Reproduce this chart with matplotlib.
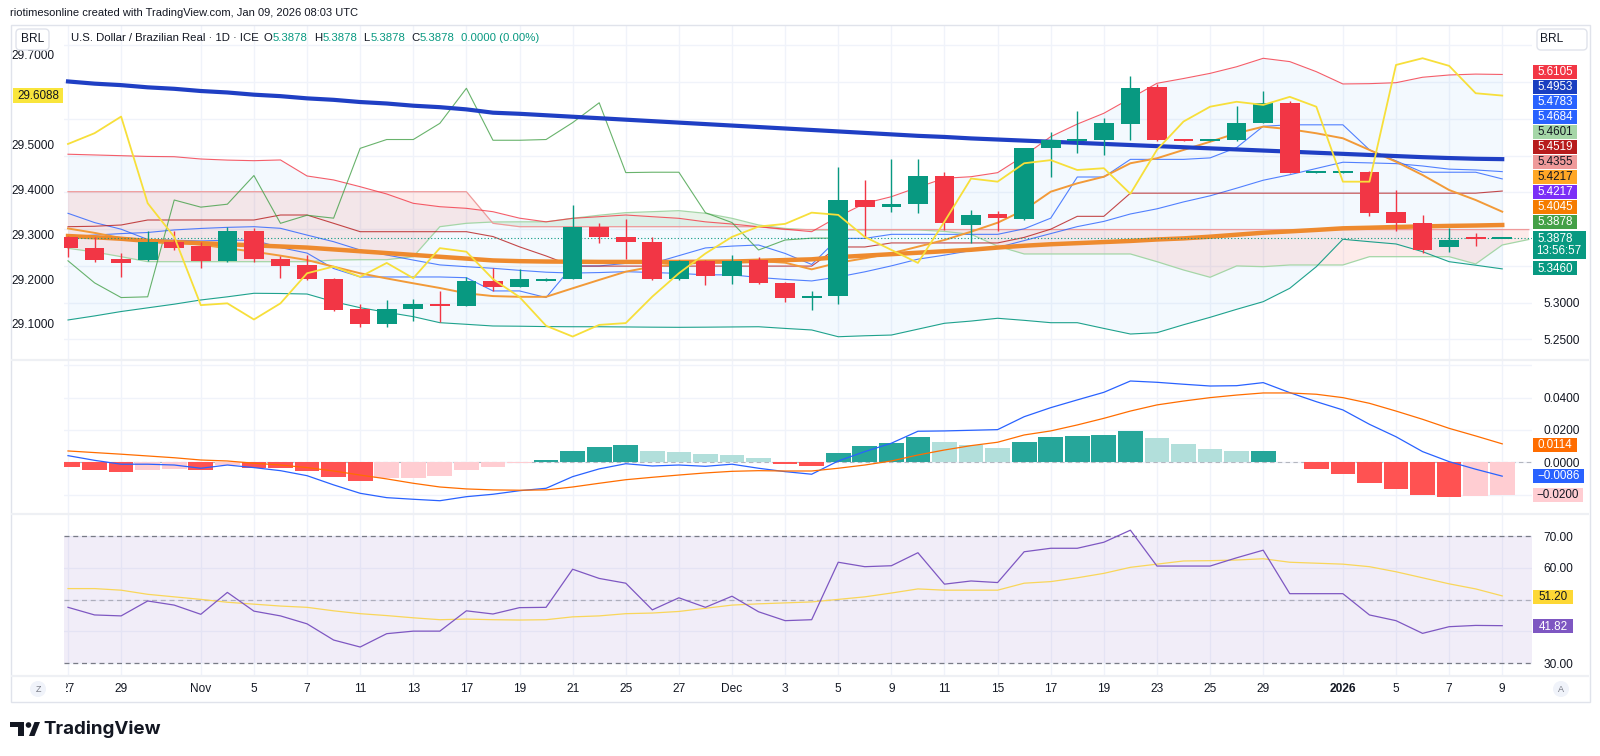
import numpy as np
import matplotlib
matplotlib.use('Agg')
import matplotlib.pyplot as plt
from matplotlib.patches import Rectangle, FancyBboxPatch, Circle, Polygon

plt.rcParams['font.family'] = ['Liberation Sans Narrow', 'Liberation Sans', 'DejaVu Sans']

# ---- USD/BRL daily, Oct 27 2025 .. Jan 9 2026 (one bar per weekday) ----
opens = [5.3898, 5.374, 5.359, 5.358, 5.383, 5.377, 5.357, 5.398, 5.360, 5.351,
         5.332, 5.291, 5.271, 5.292, 5.298, 5.296, 5.330, 5.322, 5.331, 5.3327,
         5.403, 5.389, 5.382, 5.332, 5.357, 5.337, 5.358, 5.327, 5.307, 5.309,
         5.440, 5.430, 5.434, 5.473, 5.4057, 5.4207, 5.414, 5.510, 5.521, 5.522,
         5.543, 5.593, 5.522, 5.521, 5.521, 5.545, 5.572, 5.477, 5.4775, 5.478,
         5.423, 5.408, 5.3754, 5.3885, 5.3878]
highs = [5.391, 5.389, 5.367, 5.397, 5.398, 5.383, 5.403, 5.401, 5.364, 5.365,
         5.333, 5.298, 5.303, 5.305, 5.316, 5.3345, 5.347, 5.346, 5.333, 5.433,
         5.408, 5.4135, 5.390, 5.358, 5.358, 5.365, 5.3625, 5.328, 5.316, 5.485,
         5.467, 5.496, 5.495, 5.478, 5.426, 5.425, 5.511, 5.5327, 5.561, 5.551,
         5.6084, 5.598, 5.523, 5.523, 5.5676, 5.588, 5.574, 5.478, 5.478, 5.479,
         5.453, 5.419, 5.401, 5.395, 5.3878]
lows = [5.362, 5.356, 5.335, 5.357, 5.372, 5.347, 5.356, 5.356, 5.333, 5.331,
        5.289, 5.2665, 5.267, 5.2755, 5.274, 5.295, 5.316, 5.321, 5.330, 5.332,
        5.381, 5.359, 5.331, 5.331, 5.324, 5.325, 5.326, 5.301, 5.290, 5.298,
        5.388, 5.424, 5.4215, 5.399, 5.3816, 5.398, 5.413, 5.4714, 5.504, 5.501,
        5.521, 5.520, 5.520, 5.520, 5.520, 5.544, 5.476, 5.476, 5.476, 5.418,
        5.398, 5.367, 5.3694, 5.3776, 5.3878]
closes = [5.3744, 5.358, 5.354, 5.383, 5.375, 5.357, 5.398, 5.359, 5.350, 5.332,
          5.290, 5.271, 5.292, 5.298, 5.2955, 5.3295, 5.322, 5.332, 5.332, 5.403,
          5.389, 5.382, 5.332, 5.357, 5.336, 5.357, 5.327, 5.307, 5.308, 5.4397,
          5.430, 5.434, 5.473, 5.408, 5.419, 5.415, 5.510, 5.522, 5.522, 5.544,
          5.5917, 5.521, 5.521, 5.522, 5.545, 5.572, 5.477, 5.4775, 5.4775, 5.4224,
          5.409, 5.3717, 5.3853, 5.3878, 5.3878]

# moving averages
ma_long = [5.601, 5.598, 5.596, 5.593, 5.591, 5.588, 5.586, 5.583, 5.581, 5.578,
           5.576, 5.573, 5.571, 5.568, 5.566, 5.563, 5.5585, 5.557, 5.555, 5.553,
           5.551, 5.549, 5.547, 5.545, 5.543, 5.541, 5.539, 5.537, 5.535, 5.533,
           5.531, 5.529, 5.527, 5.5255, 5.5235, 5.522, 5.5205, 5.519, 5.5175, 5.516,
           5.5145, 5.513, 5.5115, 5.510, 5.5085, 5.507, 5.5055, 5.504, 5.5025, 5.501,
           5.4995, 5.498, 5.4968, 5.4958, 5.4953]
ma_mid = [5.3907, 5.389, 5.387, 5.384, 5.3825, 5.381, 5.3795, 5.378, 5.3765, 5.375,
          5.3725, 5.370, 5.3675, 5.365, 5.3625, 5.360, 5.3575, 5.3565, 5.356, 5.3558,
          5.3555, 5.3555, 5.3555, 5.3555, 5.3558, 5.356, 5.357, 5.358, 5.359, 5.362,
          5.364, 5.366, 5.368, 5.370, 5.372, 5.375, 5.3775, 5.3795, 5.381, 5.3825,
          5.384, 5.386, 5.3875, 5.3898, 5.3925, 5.3952, 5.397, 5.399, 5.4012, 5.402,
          5.403, 5.4038, 5.4045, 5.405, 5.4057]
ma_short = [5.401, 5.395, 5.388, 5.385, 5.3825, 5.379, 5.374, 5.3694, 5.364, 5.358,
            5.349, 5.340, 5.333, 5.3264, 5.320, 5.3128, 5.309, 5.308, 5.308, 5.3196,
            5.331, 5.3422, 5.349, 5.3527, 5.3544, 5.3558, 5.3567, 5.3544, 5.3454, 5.3544,
            5.3604, 5.3672, 5.3762, 5.3853, 5.3966, 5.4088, 5.4261, 5.451, 5.4624, 5.4714,
            5.4897, 5.4965, 5.5078, 5.519, 5.5305, 5.5395, 5.536, 5.5305, 5.5237, 5.5078,
            5.4918, 5.4737, 5.4533, 5.4397, 5.4238]

# bollinger bands
bb_upper = [5.502, 5.501, 5.500, 5.499, 5.4986, 5.4955, 5.494, 5.4932, 5.4942, 5.4724,
            5.467, 5.4578, 5.4479, 5.4352, 5.4306, 5.4284, 5.4238, 5.415, 5.410, 5.4148,
            5.417, 5.4193, 5.417, 5.4148, 5.410, 5.407, 5.4034, 5.400, 5.3966, 5.417,
            5.4352, 5.4442, 5.457, 5.4693, 5.4714, 5.4769, 5.500, 5.5259, 5.543, 5.5577,
            5.578, 5.5985, 5.605, 5.612, 5.621, 5.6325, 5.628, 5.6143, 5.5976, 5.598,
            5.5993, 5.6067, 5.6098, 5.611, 5.6105]
bb_basis = [5.3898, 5.392, 5.394, 5.3955, 5.399, 5.401, 5.4025, 5.4034, 5.4012, 5.392,
            5.383, 5.3717, 5.3649, 5.358, 5.3514, 5.349, 5.3468, 5.344, 5.3415, 5.3403,
            5.341, 5.3422, 5.3411, 5.3398, 5.3379, 5.3379, 5.3343, 5.3317, 5.3296, 5.335,
            5.342, 5.3501, 5.3592, 5.3647, 5.3709, 5.3751, 5.3845, 5.394, 5.4035, 5.4106,
            5.4207, 5.4277, 5.4371, 5.4454, 5.4558, 5.4666, 5.4741, 5.4826, 5.4911, 5.4902,
            5.4892, 5.486, 5.4817, 5.4806, 5.4783]
bb_lower = [5.2765, 5.282, 5.288, 5.293, 5.298, 5.3037, 5.308, 5.3128, 5.3125, 5.3118,
            5.3014, 5.2932, 5.287, 5.281, 5.2728, 5.2706, 5.2683, 5.268, 5.2675, 5.2673,
            5.2673, 5.267, 5.2667, 5.2665, 5.2667, 5.267, 5.2673, 5.265, 5.2629, 5.2537,
            5.255, 5.256, 5.264, 5.272, 5.275, 5.2788, 5.276, 5.2728, 5.2728, 5.265,
            5.2574, 5.2592, 5.270, 5.2801, 5.291, 5.3014, 5.3196, 5.349, 5.3863, 5.383,
            5.3799, 5.3694, 5.3558, 5.351, 5.346]

# ichimoku
tenkan = [5.4216, 5.409, 5.400, 5.386, 5.385, 5.384, 5.385, 5.385, 5.375, 5.3675,
          5.3465, 5.335, 5.335, 5.335, 5.335, 5.334, 5.316, 5.316, 5.307, 5.350,
          5.350, 5.3535, 5.3535, 5.364, 5.3745, 5.377, 5.3785, 5.367, 5.352, 5.3875,
          5.3875, 5.393, 5.393, 5.393, 5.393, 5.393, 5.4005, 5.415, 5.471, 5.471,
          5.495, 5.495, 5.495, 5.497, 5.511, 5.540, 5.542, 5.542, 5.542, 5.508,
          5.493, 5.4775, 5.4775, 5.4775, 5.4684]
kijun = ([5.4034, 5.404, 5.4057] + [5.4125] * 5 + [5.4193, 5.4193, 5.408] + [5.3966] * 5
         + [5.390, 5.376, 5.3636] + [5.3498] * 10 + [5.3758, 5.3758] + [5.3813] * 5
         + [5.3888, 5.400, 5.4175, 5.4175] + [5.449] * 14 + [5.4519])
span_a = ([5.374, 5.369, 5.3626] + [5.3558] * 7 + [5.358, 5.3585, 5.3585, 5.3626,
          5.4034, 5.408, 5.4098, 5.410, 5.410, 5.4148, 5.419, 5.4225, 5.4238, 5.4252,
          5.4216, 5.4148, 5.4057, 5.401] + [5.399] * 5 + [5.397, 5.393, 5.377]
          + [5.3663] * 5 + [5.3558, 5.3445, 5.3346, 5.350, 5.349] + [5.3513] * 3
          + [5.3626] * 4 + [5.3527, 5.3785, 5.386])
span_b = [5.451] * 16 + [5.408] + [5.4034] * 10 + [5.3995] * 29

# second series on the left scale
left_series = [29.501, 29.525, 29.562, 29.369, 29.294, 29.142, 29.146, 29.110, 29.146, 29.213,
               29.228, 29.205, 29.236, 29.202, 29.269, 29.261, 29.200, 29.160, 29.096, 29.072,
               29.098, 29.102, 29.161, 29.213, 29.257, 29.294, 29.317, 29.323, 29.348, 29.343,
               29.294, 29.265, 29.236, 29.328, 29.424, 29.417, 29.458, 29.465, 29.443, 29.447,
               29.390, 29.488, 29.551, 29.584, 29.595, 29.588, 29.606, 29.584, 29.417, 29.417,
               29.677, 29.692, 29.675, 29.614, 29.6088]

# MACD
macd = [0.0041, 0.0012, -0.0012, -0.0012, -0.0017, -0.0037, -0.0017, -0.0033, -0.0052, -0.0083,
        -0.0140, -0.0192, -0.0219, -0.0229, -0.0238, -0.0213, -0.0198, -0.0176, -0.0161, -0.0089,
        -0.0041, -0.0009, -0.0023, -0.0017, -0.0025, -0.0012, -0.0037, -0.0058, -0.0074, 0.0008,
        0.0066, 0.0118, 0.0192, 0.0194, 0.0198, 0.0202, 0.0282, 0.0338, 0.0386, 0.0433,
        0.0503, 0.0495, 0.0483, 0.0472, 0.0474, 0.0493, 0.0431, 0.0375, 0.0324, 0.0235,
        0.0158, 0.0066, 0.0004, -0.0043, -0.0086]
signal = [0.0070, 0.0060, 0.0050, 0.0039, 0.0028, 0.0014, 0.0008, -0.0006, -0.0017, -0.0033,
          -0.0054, -0.0079, -0.0103, -0.0130, -0.0153, -0.0165, -0.0171, -0.0173, -0.0171, -0.0153,
          -0.0130, -0.0108, -0.0093, -0.0079, -0.0066, -0.0056, -0.0052, -0.0054, -0.0054, -0.0037,
          -0.0017, 0.0008, 0.0045, 0.0076, 0.0103, 0.0124, 0.0169, 0.0194, 0.0231, 0.0272,
          0.0317, 0.0355, 0.0379, 0.0400, 0.0416, 0.0429, 0.0429, 0.0421, 0.0400, 0.0365,
          0.0317, 0.0266, 0.0210, 0.0163, 0.0114]
hist = [-0.0027, -0.0048, -0.0062, -0.0048, -0.0043, -0.0050, -0.0017, -0.0037, -0.0037, -0.0054,
        -0.0089, -0.0116, -0.0099, -0.0098, -0.0083, -0.0050, -0.0027, -0.0003, 0.0014, 0.0070,
        0.0095, 0.0105, 0.0070, 0.0064, 0.0049, 0.0045, 0.0026, -0.0009, -0.0021, 0.0060,
        0.0099, 0.0120, 0.0155, 0.0126, 0.0105, 0.0089, 0.0126, 0.0155, 0.0161, 0.0169,
        0.0192, 0.0150, 0.0113, 0.0080, 0.0070, 0.0072, 0.0002, -0.0043, -0.0070, -0.0126,
        -0.0165, -0.0204, -0.0217, -0.0210, -0.0200]

# RSI
rsi = [47.6, 45.2, 44.9, 49.6, 48.3, 45.4, 52.3, 46.4, 44.9, 42.4,
       37.3, 35.1, 39.3, 40.1, 40.1, 46.5, 45.5, 47.5, 47.6, 59.6,
       56.7, 55.2, 46.8, 50.6, 47.6, 51.1, 46.2, 43.4, 43.7, 61.8,
       60.4, 60.7, 64.8, 54.9, 55.9, 55.4, 65.1, 66.2, 66.2, 68.1,
       71.9, 60.6, 60.6, 60.6, 63.2, 65.6, 51.9, 51.9, 51.9, 45.2,
       43.4, 39.4, 41.5, 41.9, 41.82]
rsi_ma = [53.5, 53.5, 53.0, 51.7, 50.9, 50.1, 49.2, 48.6, 48.0, 47.6,
          46.5, 45.6, 45.0, 44.3, 43.7, 43.9, 43.7, 43.6, 43.7, 44.6,
          44.9, 45.6, 45.8, 46.3, 47.3, 48.3, 48.7, 49.0, 49.3, 50.1,
          50.9, 52.1, 53.4, 53.0, 53.0, 53.0, 55.2, 55.7, 56.9, 58.3,
          60.2, 61.2, 62.2, 62.3, 62.5, 62.9, 61.8, 61.5, 61.2, 60.4,
          58.8, 56.9, 55.0, 53.4, 51.2]

tick_bars = [0, 2, 5, 7, 9, 11, 13, 15, 17, 19, 21, 23, 25, 27, 29, 31, 33, 35,
             37, 39, 41, 43, 45, 48, 50, 52, 54]
tick_labels = ['27', '29', 'Nov', '5', '7', '11', '13', '17', '19', '21', '25', '27',
               'Dec', '3', '5', '9', '11', '15', '17', '19', '23', '25', '29', '2026',
               '5', '7', '9']

# axis levels; labels hidden behind value tags are left blank
price_grid = [5.25, 5.30, 5.35, 5.40, 5.45, 5.50, 5.55, 5.60, 5.65]
price_ticklabels = ['5.2500', '5.3000', '', '', '', '', '', '', '']
left_grid = [29.1, 29.2, 29.3, 29.4, 29.5, 29.6, 29.7]
left_ticklabels = ['29.1000', '29.2000', '29.3000', '29.4000', '29.5000', '', '29.7000']
macd_grid = [-0.02, 0.0, 0.02, 0.04, 0.06]
macd_ticklabels = ['', '0.0000', '0.0200', '0.0400', '']
rsi_grid = [30, 40, 50, 60, 70]
rsi_ticklabels = ['30.00', '', '', '60.00', '70.00']

price_tags = ['5.6105', '5.4953', '5.4783', '5.4684', '5.4601', '5.4519', '5.4355',
              '5.4217', '5.4217', '5.4045', '5.3878']
price_tag_bg = ['#f23645', '#1a3fc0', '#2962ff', '#2962ff', '#a5d6a7', '#b71c1c', '#ef9a9a',
                '#ffa726', '#7b2ff7', '#f57c00', '#43a047']
price_tag_fg = ['white', 'white', 'white', 'white', '#131722', 'white', '#131722',
                '#131722', 'white', 'white', 'white']
last_tag, countdown, lower_tag, left_tag = '5.3878', '13:56:57', '5.3460', '29.6088'
macd_tags = [('0.0114', '#ff6d00', 'white'), ('\u22120.0086', '#2962ff', 'white'),
             ('\u22120.0200', '#ffcdd2', '#131722')]
rsi_tags = [('51.20', '#fdd835', '#131722'), ('41.82', '#7e57c2', 'white')]

# ---------------------------------------------------------------------------
W, H = 1600, 756
X0, X1 = 64, 1532
BAR0, STEP = 68, 26.56
XLIM = ((X0 - BAR0) / STEP, (X1 - BAR0) / STEP)
GRID = '#f0f3fa'
TXT = '#131722'


def rect(x0, y0, x1, y1):
    return [x0 / W, 1 - y1 / H, (x1 - x0) / W, (y1 - y0) / H]


def style(a, yticks, ylabels):
    a.set_xlim(*XLIM)
    a.set_xticks(tick_bars)
    a.set_yticks(yticks)
    a.set_yticklabels(ylabels)
    a.yaxis.tick_right()
    a.tick_params(axis='x', length=0, labelbottom=False)
    a.tick_params(axis='y', length=0, pad=8, labelsize=8.6, labelcolor=TXT)
    a.grid(True, color=GRID, lw=1)
    a.set_axisbelow(True)
    for s in a.spines.values():
        s.set_visible(False)


fig = plt.figure(figsize=(16, 7.56), dpi=100)
fig.patch.set_facecolor('white')

o = np.array(opens); h_ = np.array(highs); l_ = np.array(lows); c = np.array(closes)
bars = np.arange(len(c))

# ---- price pane ----
ax = fig.add_axes(rect(X0, 25, X1, 359))
axl = ax.twinx()
style(ax, price_grid, price_ticklabels)
ax.set_ylim(5.2234, 5.6778)

ax.fill_between(bars, bb_lower, bb_upper, color='#2196f3', alpha=0.05, lw=0, zorder=1)
xc = np.arange(len(span_a))
sa, sb = np.array(span_a), np.array(span_b)
ax.fill_between(xc, sa, sb, where=sa >= sb, interpolate=True, color='#43a047', alpha=0.12, lw=0, zorder=1)
ax.fill_between(xc, sa, sb, where=sa < sb, interpolate=True, color='#f44336', alpha=0.10, lw=0, zorder=1)
ax.plot(xc, span_a, color='#a5d6a7', lw=0.9, zorder=2)
ax.plot(xc, span_b, color='#ef9a9a', lw=0.9, zorder=2)

ax.plot(bars, bb_upper, color='#f23645', lw=0.8, alpha=0.8, zorder=3)
ax.plot(bars, bb_lower, color='#089981', lw=0.8, alpha=0.9, zorder=3)
ax.plot(bars, bb_basis, color='#2962ff', lw=0.8, alpha=0.8, zorder=3)
ax.plot(bars, tenkan, color='#2962ff', lw=0.8, alpha=0.8, zorder=3)
ax.plot(bars, kijun, color='#b71c1c', lw=0.8, alpha=0.8, zorder=3)
lag = 25
ax.plot(bars[:len(c) - lag], c[lag:], color='#43a047', lw=0.8, alpha=0.8, zorder=3)
ax.plot(bars, ma_short, color='#f29a38', lw=1.4, zorder=3)
ax.plot(bars, ma_mid, color='#ee8a2e', lw=3.2, zorder=3)
ax.plot(bars, ma_long, color='#1f3fc4', lw=3.0, zorder=3)
ax.axhline(c[-1], color='#089981', lw=0.8, ls=(0, (1, 2)), zorder=3)

up = c >= o
col = np.where(up, '#089981', '#f23645')
ax.vlines(bars, l_, h_, colors=col, lw=1, zorder=5)
body = np.maximum(np.abs(c - o), 0.0028)
mid = (o + c) / 2
ax.bar(bars, body, bottom=mid - body / 2, width=0.74, color=col, lw=0, zorder=6)

axl.set_ylim(29.022, 29.766)
axl.yaxis.tick_left()
axl.set_yticks(left_grid)
axl.set_yticklabels(left_ticklabels)
axl.tick_params(axis='y', length=0, pad=7, labelsize=8.6, labelcolor=TXT)
for s in axl.spines.values():
    s.set_visible(False)
axl.plot(bars, left_series, color='#f7df3a', lw=1.3, zorder=4)

# ---- MACD pane ----
axm = fig.add_axes(rect(X0, 360, X1, 513))
style(axm, macd_grid, macd_ticklabels)
axm.set_ylim(-0.0314, 0.0633)
hcol, prev = [], 0.0
for v in hist:
    if v >= 0:
        hcol.append('#26a69a' if v > prev else '#b2dfdb')
    else:
        hcol.append('#ffcdd2' if v > prev else '#ff5252')
    prev = v
axm.axhline(0, color='#787b86', lw=0.8, ls=(0, (4, 3)), alpha=0.5, zorder=1)
axm.bar(bars, hist, width=0.93, color=hcol, lw=0, zorder=2)
axm.plot(bars, macd, color='#2962ff', lw=0.9, zorder=3)
axm.plot(bars, signal, color='#ff6d00', lw=0.9, zorder=3)

# ---- RSI pane ----
axr = fig.add_axes(rect(X0, 515, X1, 676))
style(axr, rsi_grid, rsi_ticklabels)
axr.set_ylim(25.97, 76.68)
axr.axhspan(30, 70, color='#7e57c2', alpha=0.1, lw=0, zorder=1)
axr.axhline(70, color='#787b86', lw=0.9, ls=(0, (4, 3)), zorder=2)
axr.axhline(50, color='#787b86', lw=0.9, ls=(0, (4, 3)), alpha=0.5, zorder=2)
axr.axhline(30, color='#787b86', lw=0.9, ls=(0, (4, 3)), zorder=2)
axr.plot(bars, rsi_ma, color='#f9d65a', lw=0.9, zorder=3)
axr.plot(bars, rsi, color='#7e57c2', lw=0.9, zorder=4)

# ---- time axis (left edge trims the first label like the screenshot) ----
XL0 = 66
axx = fig.add_axes(rect(XL0, 676, X1, 702))
axx.set_xlim((XL0 - BAR0) / STEP, XLIM[1])
axx.set_ylim(0, 1)
axx.axis('off')
for b, t in zip(tick_bars, tick_labels):
    axx.text(b, 0.5, t, ha='center', va='center', fontsize=8.6, color=TXT,
             fontweight='bold' if t == '2026' else 'normal', clip_on=True)

# ---- overlay: frame, legends, value tags ----
ov = fig.add_axes([0, 0, 1, 1])
ov.set_xlim(0, W)
ov.set_ylim(H, 0)
ov.axis('off')
ov.set_zorder(10)

ov.add_patch(Rectangle((10.5, 24.5), 1579, 677.5, fill=False, ec='#e0e3eb', lw=1))
for yy in (359.5, 514, 676):
    ov.plot([11, 1589], [yy, yy], color='#eef0f4', lw=1.6, solid_capstyle='butt')

ov.text(10, 12.5, 'riotimesonline created with TradingView.com, Jan 09, 2026 08:03 UTC',
        fontsize=8.0, color=TXT, va='center', ha='left')

ov.add_patch(FancyBboxPatch((16, 29), 33, 21, boxstyle='round,pad=0,rounding_size=4',
                            fc='white', ec='#e0e3eb', lw=1))
ov.text(32.5, 39.5, 'BRL', fontsize=8.6, color=TXT, ha='center', va='center')
ov.add_patch(FancyBboxPatch((1537, 29), 50, 21, boxstyle='round,pad=0,rounding_size=4',
                            fc='white', ec='#e0e3eb', lw=1))
ov.text(1552, 39.5, 'BRL', fontsize=8.6, color=TXT, ha='center', va='center')

# legend line, pieces laid out one after another
TEAL = '#089981'
legend = [('U.S. Dollar / Brazilian Real \u00b7 1D \u00b7 ICE', TXT, 5), ('O', TXT, 0.5),
          ('5.3878', TEAL, 6), ('H', TXT, 0.5), ('5.3878', TEAL, 6), ('L', TXT, 0.5),
          ('5.3878', TEAL, 6), ('C', TXT, 0.5), ('5.3878', TEAL, 6),
          ('0.0000 (0.00%)', TEAL, 0)]
renderer = fig.canvas.get_renderer()
xx = 71
for t, cc, gap in legend:
    tt = ov.text(xx, 37.8, t, fontsize=8.2, color=cc, ha='left', va='center')
    xx += tt.get_window_extent(renderer).width + gap


def tag(y, text, bg, fg, x0=1533, x1=1577, hh=14):
    ov.add_patch(Rectangle((x0, y - hh / 2), x1 - x0, hh, fc=bg, ec='none'))
    ov.text((x0 + x1) / 2, y + 0.5, text, fontsize=8.4, color=fg, ha='center', va='center')


for i, (t, bg, fg) in enumerate(zip(price_tags, price_tag_bg, price_tag_fg)):
    tag(71.7 + 15 * i, t, bg, fg)
ov.add_patch(Rectangle((1533, 231), 53, 27.5, fc=TEAL, ec='none'))
ov.text(1555, 238.6, last_tag, fontsize=8.4, color='white', ha='center', va='center')
ov.text(1559, 251.3, countdown, fontsize=8.4, color='white', ha='center', va='center')
tag(268.3, lower_tag, TEAL, 'white')

tag(445, *macd_tags[0])
tag(475.7, *macd_tags[1], x1=1584)
tag(495, *macd_tags[2], x1=1583)
tag(597, *rsi_tags[0], x1=1573)
tag(626, *rsi_tags[1], x1=1573)

ov.add_patch(Rectangle((13, 88), 50, 15, fc='#f9e53c', ec='none'))
ov.text(38, 95.8, left_tag, fontsize=8.4, color=TXT, ha='center', va='center')

for cx, t in ((38, 'Z'), (1561, 'A')):
    ov.add_patch(Circle((cx, 689), 8, fc='#f0f3fa', ec='none'))
    ov.text(cx, 689.5, t, fontsize=6.5, color='#787b86', ha='center', va='center')

# TradingView logo
ov.add_patch(Rectangle((10, 722), 14, 5, fc='#131722', ec='none'))
ov.add_patch(Rectangle((17.5, 722), 6.5, 14, fc='#131722', ec='none'))
ov.add_patch(Circle((28.5, 725), 2.8, fc='#131722', ec='none'))
ov.add_patch(Polygon([(29, 736), (34.5, 736), (40, 722), (34.5, 722)], closed=True,
                     fc='#131722', ec='none'))
ov.text(43, 729.5, 'TradingView', fontsize=13.5, fontweight='bold', color='#131722',
        ha='left', va='center', family=['Inter', 'Liberation Sans', 'DejaVu Sans'])

fig.savefig('out.png', dpi=100, facecolor='white')
